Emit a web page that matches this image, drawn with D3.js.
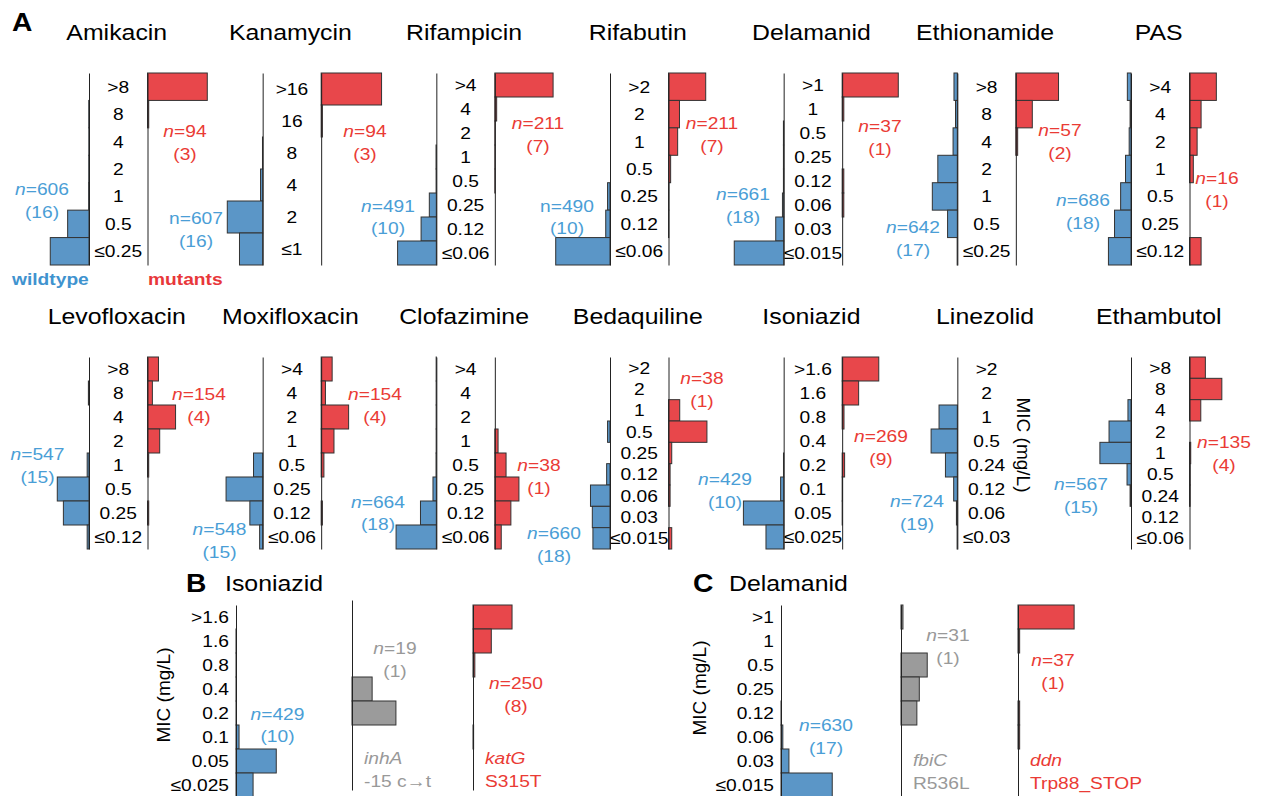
<!DOCTYPE html>
<html>
<head>
<meta charset="utf-8">
<script src="https://cdn.jsdelivr.net/npm/d3@7"></script>
<style>
  body { margin: 0; background: #fff; }
  svg { display: block; }
  text { font-family: "Liberation Sans", Arial, Helvetica, sans-serif; }
</style>
</head>
<body>
<svg id="chart"></svg>
<script>
// ---- data: MIC distributions, fraction of isolates per MIC level ----
const drugs = ['Amikacin', 'Kanamycin', 'Rifampicin', 'Rifabutin', 'Delamanid', 'Ethionamide', 'PAS',
  'Levofloxacin', 'Moxifloxacin', 'Clofazimine', 'Bedaquiline', 'Isoniazid', 'Linezolid', 'Ethambutol'];

const micLevels = [
  ['>8', '8', '4', '2', '1', '0.5', '≤0.25'],
  ['>16', '16', '8', '4', '2', '≤1'],
  ['>4', '4', '2', '1', '0.5', '0.25', '0.12', '≤0.06'],
  ['>2', '2', '1', '0.5', '0.25', '0.12', '≤0.06'],
  ['>1', '1', '0.5', '0.25', '0.12', '0.06', '0.03', '≤0.015'],
  ['>8', '8', '4', '2', '1', '0.5', '≤0.25'],
  ['>4', '4', '2', '1', '0.5', '0.25', '≤0.12'],
  ['>8', '8', '4', '2', '1', '0.5', '0.25', '≤0.12'],
  ['>4', '4', '2', '1', '0.5', '0.25', '0.12', '≤0.06'],
  ['>4', '4', '2', '1', '0.5', '0.25', '0.12', '≤0.06'],
  ['>2', '2', '1', '0.5', '0.25', '0.12', '0.06', '0.03', '≤0.015'],
  ['>1.6', '1.6', '0.8', '0.4', '0.2', '0.1', '0.05', '≤0.025'],
  ['>2', '2', '1', '0.5', '0.24', '0.12', '0.06', '≤0.03'],
  ['>8', '8', '4', '2', '1', '0.5', '0.24', '0.12', '≤0.06']
];

const wildtype = [
  [0, 0.004, 0.003, 0.004, 0.006, 0.35, 0.635],
  [0, 0, 0.003, 0.035, 0.58, 0.38],
  [0, 0, 0, 0.005, 0.004, 0.115, 0.25, 0.635],
  [0, 0, 0, 0, 0.04, 0.07, 0.89],
  [0, 0, 0.004, 0.004, 0.004, 0.02, 0.13, 0.81],
  [0.055, 0.03, 0.07, 0.32, 0.41, 0.16, 0.003],
  [0.06, 0.015, 0.03, 0.09, 0.17, 0.27, 0.37],
  [0, 0.01, 0, 0, 0.03, 0.52, 0.42, 0.03],
  [0, 0, 0, 0, 0.15, 0.6, 0.21, 0.05],
  [0.003, 0.003, 0.003, 0.003, 0.005, 0.055, 0.26, 0.66],
  [0, 0, 0, 0.04, 0, 0.055, 0.32, 0.29, 0.28],
  [0, 0, 0, 0, 0.003, 0.05, 0.66, 0.29],
  [0, 0, 0.3, 0.43, 0.195, 0.06, 0.015, 0.004],
  [0, 0, 0.05, 0.36, 0.51, 0.065, 0.015, 0, 0]
];

const mutants = [
  [0.98, 0.02, 0, 0, 0, 0, 0],
  [0.99, 0.02, 0, 0, 0, 0],
  [0.955, 0.03, 0.004, 0.004, 0.004, 0, 0, 0],
  [0.61, 0.18, 0.15, 0.035, 0.005, 0.005, 0],
  [0.92, 0.027, 0, 0, 0.027, 0.027, 0, 0],
  [0.7, 0.27, 0.03, 0, 0, 0, 0],
  [0.44, 0.19, 0.125, 0.0625, 0, 0, 0.19],
  [0.18, 0.08, 0.46, 0.2, 0.02, 0, 0.02, 0],
  [0.18, 0.07, 0.45, 0.21, 0.045, 0, 0.02, 0],
  [0, 0, 0, 0.053, 0.184, 0.395, 0.263, 0.105],
  [0, 0, 0.184, 0.63, 0.053, 0.026, 0.026, 0, 0.053],
  [0.6, 0.27, 0.03, 0, 0.04, 0.005, 0.003, 0],
  null,
  [0.26, 0.53, 0.185, 0, 0.02, 0.01, 0.01, 0, 0]
];

const nWild = [606, 607, 491, 490, 661, 642, 686, 547, 548, 664, 660, 429, 724, 567];
const labsWild = [16, 16, 10, 10, 18, 17, 18, 15, 15, 18, 18, 10, 19, 15];
const nMut = [94, 94, 211, 211, 37, 57, 16, 154, 154, 38, 38, 269, null, 135];
const labsMut = [3, 3, 7, 7, 1, 2, 1, 4, 4, 1, 1, 9, null, 4];

// panel B: isoniazid by mutation
const inhLevels = ['>1.6', '1.6', '0.8', '0.4', '0.2', '0.1', '0.05', '≤0.025'];
const inhWild = [0, 0.003, 0.003, 0.003, 0.003, 0.05, 0.66, 0.28];
const inhA = [0, 0, 0, 0.33, 0.72, 0, 0, 0];
const katG = [0.64, 0.3, 0.03, 0, 0, 0.01, 0, 0];

// panel C: delamanid by mutation
const dlmLevels = ['>1', '1', '0.5', '0.25', '0.12', '0.06', '0.03', '≤0.015'];
const dlmWild = [0, 0, 0, 0, 0.003, 0.03, 0.13, 0.84];
const fbiC = [0.032, 0, 0.43, 0.3, 0.26, 0, 0, 0];
const ddn = [0.92, 0.027, 0, 0, 0.027, 0.027, 0, 0];

// ---- layout ----
const W = 1261, H = 796;
const SX = 1.13;            // source text is set a little wider than Arial
const BLUE = '#5b96c7', RED = '#e8474b', GREY = '#9b9b9b';
const BLUE_TXT = '#4a9ed6', RED_TXT = '#ea3b35', GREY_TXT = '#999999';
const PANEL_H = 192, GAP = 58.5;
const rowTop = [73, 357], titleY = [39.5, 323.5];

// where the n= labels sit (first line baseline)
const nWildPos = [[42, 195], [196, 224], [388, 211.5], [567, 211.5], [743, 200], [913, 233], [1083, 206],
  [37.5, 460], [219.5, 535], [378, 507.5], [554, 539], [725, 485], [917, 507], [1081, 490]];
const nMutPos = [[185, 137], [365, 137], [538, 129], [712, 129], [880, 132], [1060, 136], [1217, 184],
  [199, 400], [375, 400], [539, 471], [702, 384], [881, 442], null, [1224, 448]];
const uprightN = ['Kanamycin', 'Rifabutin'];

const svg = d3.select('#chart').attr('width', W).attr('height', H);
svg.append('rect').attr('width', W).attr('height', H).attr('fill', '#fff');

const w = d3.scaleLinear().domain([0, 1]).range([0, 61]);
const col = d3.scalePoint().domain(d3.range(7)).range([89, 1131]);

function label(g, x, y, s, o = {}) {
  const t = g.append('text')
    .attr('transform', `translate(${x},${y}) scale(${SX},1)`)
    .attr('font-size', o.size || 17)
    .attr('text-anchor', o.anchor || 'middle')
    .attr('fill', o.color || '#000');
  if (o.weight) t.attr('font-weight', o.weight);
  if (o.italic) t.attr('font-style', 'italic');
  if (s) t.text(s);
  return t;
}

function nLabel(g, x, y, n, k, color, upright) {
  const t = label(g, x, y, '', { color });
  t.append('tspan').attr('font-style', upright ? 'normal' : 'italic').text('n');
  t.append('tspan').text('=' + n);
  label(g, x, y + 22.5, `(${k})`, { color });
}

function bars(g, x0, y, vals, dir, fill) {
  g.append('g').selectAll('rect')
    .data(vals.map((v, i) => ({ v, c: y.domain()[i] })).filter(d => d.v > 0))
    .join('rect')
      .attr('x', d => dir < 0 ? x0 - w(d.v) : x0)
      .attr('y', d => y(d.c))
      .attr('width', d => w(d.v))
      .attr('height', y.bandwidth())
      .attr('fill', fill)
      .attr('stroke', '#333')
      .attr('stroke-width', 1);
}

function bareAxis(g, x, y) {
  g.append('g')
    .attr('transform', `translate(${x},0)`)
    .call(d3.axisLeft(y).tickValues([]).tickSizeOuter(0))
    .call(a => a.select('.domain').attr('stroke', '#222'));
}

// ---- panel A ----
svg.append('text').attr('x', 12).attr('y', 31).attr('font-size', 25).attr('font-weight', 'bold')
  .attr('transform', `translate(12,0) scale(${SX},1) translate(-12,0)`).text('A');

drugs.forEach((name, i) => {
  const r = i < 7 ? 0 : 1;
  const xw = col(i % 7), xm = xw + GAP;
  const y = d3.scaleBand().domain(micLevels[i]).range([rowTop[r], rowTop[r] + PANEL_H]);
  const g = svg.append('g');

  label(g, xw + GAP / 2 - 1.5, titleY[r], name, { size: 22 });

  bars(g, xw, y, wildtype[i], -1, BLUE);
  g.append('g')
    .attr('transform', `translate(${xw},0)`)
    .call(d3.axisRight(y).tickSize(0).tickSizeOuter(0))
    .call(a => a.select('.domain').attr('stroke', '#222'))
    .call(a => a.selectAll('.tick text')
      .attr('x', 0).attr('dy', null)
      .attr('transform', `translate(${GAP / 2},6) scale(${SX},1)`)
      .attr('text-anchor', 'middle')
      .attr('font-size', 17)
      .attr('font-family', '"Liberation Sans", Arial, sans-serif')
      .attr('fill', '#000'));

  if (mutants[i]) {
    bars(g, xm, y, mutants[i], 1, RED);
    bareAxis(g, xm, y);
    nLabel(g, nMutPos[i][0], nMutPos[i][1], nMut[i], labsMut[i], RED_TXT, false);
  }
  nLabel(g, nWildPos[i][0], nWildPos[i][1], nWild[i], labsWild[i], BLUE_TXT, uprightN.includes(name));
});

// legend under Amikacin
label(svg, 12, 285, 'wildtype', { anchor: 'start', weight: 'bold', color: '#3f93cf' });
label(svg, 148, 285, 'mutants', { anchor: 'start', weight: 'bold', color: '#e8373a' });

// MIC axis title beside Linezolid
svg.append('text')
  .attr('transform', 'translate(1024,445) rotate(90)')
  .attr('text-anchor', 'middle').attr('dy', '0.35em')
  .attr('font-size', 19).text('MIC (mg/L)');

// ---- panels B and C ----
function mutationPanel(o) {
  const g = svg.append('g');
  const y = d3.scaleBand().domain(o.levels).range([605, 605 + PANEL_H]);

  label(g, o.letterX, 592, o.letter, { anchor: 'start', size: 25, weight: 'bold' });
  label(g, o.titleX, 591, o.title, { anchor: 'start', size: 22 });

  g.append('text')
    .attr('transform', `translate(${o.micX},${o.micY}) rotate(-90)`)
    .attr('text-anchor', 'middle').attr('dy', '0.35em')
    .attr('font-size', 19).text('MIC (mg/L)');

  bars(g, o.xw, y, o.wild, 1, BLUE);
  g.append('g')
    .attr('transform', `translate(${o.xw},0)`)
    .call(d3.axisLeft(y).tickSize(0).tickSizeOuter(0))
    .call(a => a.select('.domain').attr('stroke', '#222'))
    .call(a => a.selectAll('.tick text')
      .attr('x', 0).attr('dy', null)
      .attr('transform', `translate(-7,6) scale(${SX},1)`)
      .attr('text-anchor', 'end')
      .attr('font-size', 17)
      .attr('font-family', '"Liberation Sans", Arial, sans-serif')
      .attr('fill', '#000'));
  nLabel(g, o.nWildPos[0], o.nWildPos[1], o.nWild, o.labsWild, BLUE_TXT, false);

  const yg = d3.scaleBand().domain(o.levels).range([o.greyTop, o.greyTop + PANEL_H]);
  bars(g, o.xg, y, o.grey, 1, GREY);
  bareAxis(g, o.xg, d3.scaleBand().domain(o.levels).range([o.greyTop, o.greyBottom]));
  nLabel(g, o.nGreyPos[0], o.nGreyPos[1], o.nGrey, o.labsGrey, GREY_TXT, false);
  label(g, o.xg + 12, o.geneY, o.greyGene, { anchor: 'start', italic: true, color: GREY_TXT });
  label(g, o.xg + 12, o.geneY + 23, o.greyMut, { anchor: 'start', color: GREY_TXT });

  bars(g, o.xr, y, o.red, 1, RED);
  bareAxis(g, o.xr, d3.scaleBand().domain(o.levels).range([605, o.redBottom]));
  nLabel(g, o.nRedPos[0], o.nRedPos[1], o.nRed, o.labsRed, RED_TXT, false);
  label(g, o.xr + 12, o.geneY, o.redGene, { anchor: 'start', italic: true, color: RED_TXT });
  label(g, o.xr + 12, o.geneY + 23, o.redMut, { anchor: 'start', color: RED_TXT });
}

mutationPanel({
  letter: 'B', letterX: 186, title: 'Isoniazid', titleX: 225, micX: 163, micY: 695,
  levels: inhLevels, wild: inhWild, grey: inhA, red: katG,
  xw: 236, xg: 352, xr: 473, greyTop: 600, greyBottom: 790, redBottom: 790,
  nWild: 429, labsWild: 10, nWildPos: [277.5, 719.5],
  nGrey: 19, labsGrey: 1, nGreyPos: [395, 654],
  nRed: 250, labsRed: 8, nRedPos: [516, 689],
  greyGene: 'inhA', greyMut: '-15 c→t', redGene: 'katG', redMut: 'S315T', geneY: 764
});

mutationPanel({
  letter: 'C', letterX: 693, title: 'Delamanid', titleX: 729, micX: 699, micY: 688,
  levels: dlmLevels, wild: dlmWild, grey: fbiC, red: ddn,
  xw: 781, xg: 901, xr: 1018, greyTop: 605, greyBottom: 797, redBottom: 797,
  nWild: 630, labsWild: 17, nWildPos: [826, 731],
  nGrey: 31, labsGrey: 1, nGreyPos: [948, 641],
  nRed: 37, labsRed: 1, nRedPos: [1053, 666],
  greyGene: 'fbiC', greyMut: 'R536L', redGene: 'ddn', redMut: 'Trp88_STOP', geneY: 766
});
</script>
</body>
</html>
